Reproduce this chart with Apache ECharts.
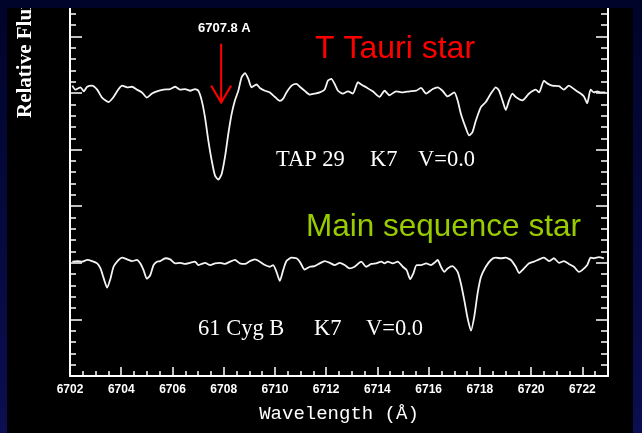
<!DOCTYPE html>
<html>
<head>
<meta charset="utf-8">
<script src="https://cdn.jsdelivr.net/npm/echarts@6/dist/echarts.min.js"></script>
<style>
html,body{margin:0;padding:0;background:#02052f;}
#chart{width:642px;height:433px;}
</style>
</head>
<body>
<div id="chart"></div>
<script>
// ---- Data ----
// T Tauri star (TAP 29) spectrum: wavelength (Å) and relative flux
const tTauriWavelength = [
  6702.09,6702.21,6702.41,6702.54,6702.67,6702.86,6703.06,6703.25,6703.51,6703.70,
  6703.90,6704.03,6704.23,6704.42,6704.61,6704.81,6705.00,6705.20,6705.39,6705.65,
  6705.91,6706.11,6706.30,6706.49,6706.69,6706.88,6707.01,6707.14,6707.27,6707.40,
  6707.53,6707.66,6707.79,6707.92,6708.05,6708.18,6708.31,6708.44,6708.57,6708.70,
  6708.83,6708.96,6709.09,6709.28,6709.41,6709.61,6709.80,6710.00,6710.19,6710.32,
  6710.45,6710.65,6710.84,6710.97,6711.16,6711.36,6711.55,6711.75,6711.94,6712.07,
  6712.20,6712.33,6712.46,6712.65,6712.85,6713.04,6713.24,6713.37,6713.56,6713.82,
  6714.08,6714.28,6714.47,6714.73,6714.99,6715.25,6715.51,6715.70,6715.90,6716.16,
  6716.35,6716.54,6716.74,6717.00,6717.13,6717.26,6717.46,6717.58,6717.71,6717.84,
  6718.04,6718.23,6718.43,6718.62,6718.75,6718.88,6719.01,6719.14,6719.27,6719.40,
  6719.66,6719.92,6720.18,6720.31,6720.50,6720.63,6720.82,6721.09,6721.28,6721.47,
  6721.67,6721.93,6722.06,6722.19,6722.32,6722.45,6722.58,6722.71,6722.90
];
const tTauriFlux = [
  5.13,5.06,5.10,5.03,5.11,5.13,5.06,4.92,4.84,4.93,
  5.07,5.13,5.10,5.11,5.06,5.01,4.92,4.99,5.03,5.06,
  5.07,5.11,5.06,5.07,5.04,5.07,5.04,4.87,4.57,4.16,
  3.81,3.54,3.47,3.57,3.87,4.28,4.63,4.87,5.04,5.28,
  5.35,5.25,5.10,5.15,5.09,5.04,5.01,4.93,4.86,4.90,
  5.01,5.13,5.16,5.11,5.04,4.97,4.99,5.01,5.06,5.22,
  5.25,5.16,5.04,4.99,5.03,4.99,5.19,5.15,5.10,5.03,
  4.93,5.04,4.96,5.03,5.01,5.03,5.04,5.09,4.99,5.07,
  5.10,5.04,4.94,5.01,4.87,4.63,4.37,4.25,4.31,4.51,
  4.75,4.84,4.99,5.10,5.04,4.87,4.70,4.87,4.99,4.93,
  4.87,4.99,5.06,5.01,5.22,5.17,5.13,5.12,5.06,5.13,
  5.07,4.99,4.94,4.82,5.06,5.01,5.03,5.01,5.01
];
// Main sequence star (61 Cyg B) spectrum
const mainSeqWavelength = [
  6702.09,6702.28,6702.47,6702.67,6702.86,6703.06,6703.19,6703.32,6703.45,6703.58,
  6703.70,6703.90,6704.03,6704.23,6704.42,6704.61,6704.74,6704.87,6705.00,6705.13,
  6705.26,6705.39,6705.52,6705.72,6705.91,6706.11,6706.30,6706.49,6706.69,6706.88,
  6707.01,6707.14,6707.27,6707.47,6707.66,6707.86,6708.05,6708.25,6708.44,6708.63,
  6708.83,6709.02,6709.22,6709.41,6709.61,6709.80,6709.93,6710.06,6710.19,6710.32,
  6710.45,6710.65,6710.84,6710.97,6711.16,6711.36,6711.55,6711.75,6711.94,6712.14,
  6712.33,6712.53,6712.72,6712.91,6713.11,6713.37,6713.56,6713.76,6713.95,6714.15,
  6714.28,6714.40,6714.60,6714.79,6714.99,6715.14,6715.28,6715.40,6715.53,6715.70,
  6715.90,6716.09,6716.22,6716.35,6716.48,6716.61,6716.74,6716.93,6717.13,6717.26,
  6717.39,6717.52,6717.65,6717.78,6717.91,6718.04,6718.23,6718.43,6718.62,6718.82,
  6719.01,6719.21,6719.40,6719.53,6719.72,6719.92,6720.11,6720.31,6720.50,6720.70,
  6720.89,6721.09,6721.28,6721.47,6721.67,6721.86,6721.99,6722.19,6722.32,6722.45,
  6722.64,6722.84
];
const mainSeqFlux = [
  2.02,2.03,2.02,2.05,2.03,1.99,1.90,1.72,1.56,1.72,
  1.93,2.05,2.09,2.06,2.03,2.05,1.99,1.87,1.72,1.78,
  1.96,2.02,2.03,2.08,2.06,1.99,2.00,1.98,2.00,2.02,
  1.96,1.98,2.00,1.96,1.99,2.00,1.98,2.02,2.05,1.99,
  1.98,2.03,2.06,2.02,1.96,1.93,1.96,1.84,1.68,1.87,
  2.03,2.09,2.08,2.02,1.88,1.93,1.94,1.99,2.03,2.00,
  1.96,2.00,1.96,1.90,1.93,2.02,1.93,1.98,1.99,2.02,
  1.99,2.02,1.99,2.02,1.93,1.87,1.71,1.81,1.96,1.96,
  1.99,1.96,2.00,2.05,1.93,1.84,1.90,1.94,1.84,1.63,
  1.34,1.02,0.80,1.05,1.46,1.75,1.93,2.05,2.09,2.08,
  2.09,2.05,1.93,1.82,1.90,1.99,2.02,2.06,2.09,2.03,
  2.08,2.00,2.03,1.98,1.93,1.84,1.87,1.96,2.09,2.08,
  2.10,2.08
];
// Tick labels of the wavelength axis
const xTickLabels = [6702,6704,6706,6708,6710,6712,6714,6716,6718,6720,6722];
// Li I line marker: wavelength, flux at arrow tail, flux at arrow tip
const liArrow = [[6707.9, 5.87, 4.83]];

// ---- Chart ----
const chart = echarts.init(document.getElementById('chart'), null, {renderer: 'canvas'});
const WHITE = '#ffffff';
const gridLayout = {left: 70, right: 34, top: -20.2, bottom: 57, outerBoundsMode: 'none', containLabel: false};

const option = {
  animation: false,
  backgroundColor: {
    type: 'linear', x: 0, y: 0, x2: 0, y2: 1,
    colorStops: [{offset: 0, color: '#00042a'}, {offset: 1, color: '#0b0e50'}]
  },
  grid: [Object.assign({}, gridLayout), Object.assign({}, gridLayout)],
  xAxis: [
    {
      type: 'value', gridIndex: 0, min: 6702, max: 6723, interval: 2, position: 'bottom',
      axisLine: {show: true, lineStyle: {color: WHITE, width: 2}},
      axisTick: {show: true, inside: true, length: 9, lineStyle: {color: WHITE, width: 1.5}},
      axisLabel: {
        show: true, color: WHITE, fontFamily: 'Liberation Sans', fontWeight: 'bold', fontSize: 12,
        margin: 8, showMinLabel: true, showMaxLabel: false,
        formatter: v => (xTickLabels.indexOf(Math.round(v)) >= 0 && Math.abs(v - Math.round(v)) < 1e-6) ? String(Math.round(v)) : ''
      },
      splitLine: {show: false}
    },
    {
      type: 'value', gridIndex: 1, min: 6702, max: 6723, interval: 0.5, position: 'bottom',
      axisLine: {show: false},
      axisTick: {show: true, inside: true, length: 5, lineStyle: {color: WHITE, width: 1.5}},
      axisLabel: {show: false},
      splitLine: {show: false}
    }
  ],
  yAxis: [
    {
      type: 'value', gridIndex: 0, min: 0, max: 7, interval: 1, position: 'left',
      axisLine: {show: true, lineStyle: {color: WHITE, width: 2}},
      axisTick: {show: true, inside: true, length: 12, lineStyle: {color: WHITE, width: 1.5}},
      minorTick: {show: true, splitNumber: 5, length: 6, lineStyle: {color: WHITE, width: 1.5}},
      axisLabel: {show: false},
      splitLine: {show: false}, minorSplitLine: {show: false}
    },
    {
      type: 'value', gridIndex: 0, min: 0, max: 7, interval: 1, position: 'right',
      axisLine: {show: true, lineStyle: {color: WHITE, width: 2}},
      axisTick: {show: true, inside: true, length: 12, lineStyle: {color: WHITE, width: 1.5}},
      minorTick: {show: true, splitNumber: 5, length: 7, lineStyle: {color: WHITE, width: 1.5}},
      axisLabel: {show: false},
      splitLine: {show: false}, minorSplitLine: {show: false}
    },
    {
      type: 'value', gridIndex: 1, min: 0, max: 7, show: false
    }
  ],
  series: [
    {
      name: 'TAP 29', type: 'line', xAxisIndex: 0, yAxisIndex: 0,
      data: tTauriWavelength.map((w, i) => [w, tTauriFlux[i]]),
      showSymbol: false, smooth: 0.2, clip: false,
      lineStyle: {color: '#f4f4f4', width: 1.8}
    },
    {
      name: '61 Cyg B', type: 'line', xAxisIndex: 0, yAxisIndex: 0,
      data: mainSeqWavelength.map((w, i) => [w, mainSeqFlux[i]]),
      showSymbol: false, smooth: 0.2, clip: false,
      lineStyle: {color: '#f4f4f4', width: 1.8}
    },
    {
      name: 'Li arrow', type: 'custom', xAxisIndex: 0, yAxisIndex: 0,
      data: liArrow, z: 5,
      renderItem: function (params, api) {
        const top = api.coord([api.value(0), api.value(1)]);
        const tip = api.coord([api.value(0), api.value(2)]);
        return {
          type: 'group',
          children: [
            {type: 'line', shape: {x1: top[0], y1: top[1], x2: tip[0], y2: tip[1]},
             style: {stroke: '#ff0000', lineWidth: 2}},
            {type: 'polyline', shape: {points: [[tip[0] - 10, tip[1] - 17], [tip[0], tip[1]], [tip[0] + 10, tip[1] - 17]]},
             style: {stroke: '#ff0000', lineWidth: 2, fill: null}}
          ]
        };
      }
    }
  ],
  graphic: {
    elements: [
      {type: 'rect', z: -100, shape: {x: 7, y: 8, width: 626, height: 425}, style: {fill: '#000000'}},
      {type: 'text', z: 10, x: 26, y: 118, rotation: Math.PI / 2,
       style: {text: 'Relative Flux', fill: WHITE, font: 'bold 21px "Liberation Serif"', align: 'left', verticalAlign: 'middle'}},
      {type: 'text', z: 10, x: 339, y: 414,
       style: {text: 'Wavelength (Å)', fill: WHITE, font: '19px "Liberation Mono"', align: 'center', verticalAlign: 'middle'}},
      {type: 'text', z: 10, x: 198, y: 28,
       style: {text: '6707.8 A', fill: WHITE, font: 'bold 13px "Liberation Sans"', align: 'left', verticalAlign: 'middle'}},
      {type: 'text', z: 10, x: 315, y: 49,
       style: {text: 'T Tauri star', fill: '#ff0000', font: '32px "Liberation Sans"', align: 'left', verticalAlign: 'middle'}},
      {type: 'text', z: 10, x: 306, y: 227,
       style: {text: 'Main sequence star', fill: '#99cc00', font: '31.5px "Liberation Sans"', align: 'left', verticalAlign: 'middle'}},
      {type: 'text', z: 10, x: 276, y: 160,
       style: {text: 'TAP 29', fill: WHITE, font: '22.5px "Liberation Serif"', align: 'left', verticalAlign: 'middle'}},
      {type: 'text', z: 10, x: 370, y: 160,
       style: {text: 'K7', fill: WHITE, font: '22.5px "Liberation Serif"', align: 'left', verticalAlign: 'middle'}},
      {type: 'text', z: 10, x: 418, y: 160,
       style: {text: 'V=0.0', fill: WHITE, font: '22.5px "Liberation Serif"', align: 'left', verticalAlign: 'middle'}},
      {type: 'text', z: 10, x: 198, y: 329,
       style: {text: '61 Cyg B', fill: WHITE, font: '22.5px "Liberation Serif"', align: 'left', verticalAlign: 'middle'}},
      {type: 'text', z: 10, x: 314, y: 329,
       style: {text: 'K7', fill: WHITE, font: '22.5px "Liberation Serif"', align: 'left', verticalAlign: 'middle'}},
      {type: 'text', z: 10, x: 366, y: 329,
       style: {text: 'V=0.0', fill: WHITE, font: '22.5px "Liberation Serif"', align: 'left', verticalAlign: 'middle'}},
      {type: 'rect', z: 200, shape: {x: 0, y: 0, width: 642, height: 8}, style: {fill: '#00042a'}}
    ]
  }
};
chart.setOption(option);
</script>
</body>
</html>
